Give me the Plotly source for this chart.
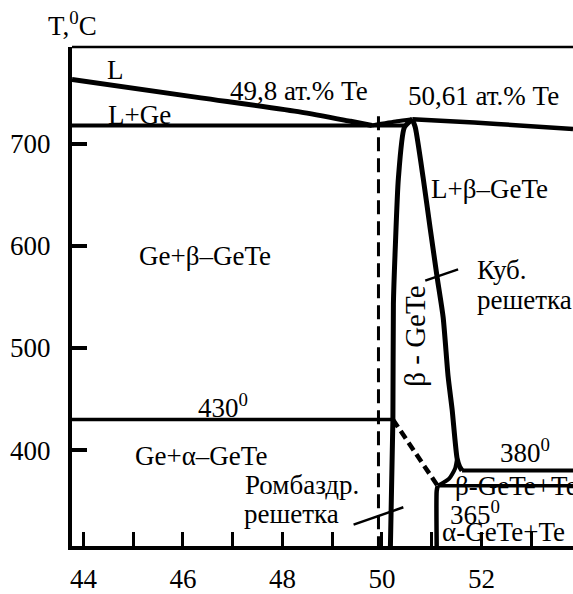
import plotly.graph_objects as go

# Ge–Te phase diagram near GeTe: composition in at.% Te, temperature in °C
X_MIN, X_MAX = 43.77, 53.84
T_MIN, T_MAX = 306.1, 794.8

# Liquidus on the Ge side down to the eutectic at 49.8 at.% Te
liq_ge_x = [43.77, 46.36, 48.37, 49.37, 49.8]
liq_ge_t = [763, 745, 731, 722, 718]

# GeTe liquidus rising from the eutectic to the congruent maximum (50.61 at.% Te)
liq_gete_x = [49.8, 50.3, 50.61]
liq_gete_t = [718, 722, 724]

# GeTe liquidus on the Te side
liq_te_x = [50.61, 51.37, 52.31, 53.84]
liq_te_t = [724, 722, 719.5, 714.5]

# Eutectic horizontal L -> Ge + beta-GeTe
eut_x = [43.77, 50.45]
eut_t = [718, 718]

# Ge-side boundary of beta-GeTe, continued down as the alpha-GeTe boundary
beta_left_x = [50.61, 50.45, 50.33, 50.27, 50.23, 50.22, 50.17]
beta_left_t = [724, 716, 666, 601, 543, 430, T_MIN]

# Te-side boundary of beta-GeTe down to the 380 degree line
beta_right_x = [50.61, 50.67, 50.83, 50.97, 51.11, 51.23, 51.33, 51.41, 51.51, 51.56, 51.61]
beta_right_t = [724, 716, 666, 617, 569, 530, 472, 440, 392, 384, 380]

# beta-GeTe solvus between 380 and 365 degrees
solvus_x = [51.51, 51.47, 51.35, 51.12]
solvus_t = [392, 382, 372, 365]

# Invariant horizontals
line430_x = [43.77, 50.22]
line430_t = [430, 430]
line380_x = [51.61, 53.84]
line380_t = [380, 380]
line365_x = [51.12, 53.84]
line365_t = [365, 365]

# alpha-GeTe boundary on the Te side
alpha_right_x = [51.12, 51.1, 51.1]
alpha_right_t = [365, 360, T_MIN]

# alpha/beta transition line (430 -> 365 degrees)
transition_x = [50.22, 51.12]
transition_t = [430, 365]

# Stoichiometric composition marker
stoich_x = [49.93, 49.93]
stoich_t = [727, T_MIN]

# Leader lines from the lattice notes
lead_cub_x = [50.87, 51.53]
lead_cub_t = [566, 577]
lead_rh_x = [49.43, 50.43]
lead_rh_t = [327, 344]

# Axis ticks
x_tick_vals = [44, 46, 48, 50, 52]
x_tick_text = ["44", "46", "48", "50", "52"]
x_minor_vals = [45, 47, 49, 51, 53]
y_tick_vals = [400, 500, 600, 700]
y_tick_text = ["400", "500", "600", "700"]

# Region and point labels: (text, x, T, angle, anchor, size)
labels = [
    ("L", 44.64, 772.6, 0, "center", 27),
    ("L+Ge", 45.12, 728.0, 0, "center", 27),
    ("49,8 ат.% Te", 48.33, 752.2, 0, "center", 27),
    ("50,61 ат.% Te", 52.05, 746.4, 0, "center", 27),
    ("L+β–GeTe", 52.17, 655.5, 0, "center", 27),
    ("Ge+β–GeTe", 46.44, 589.7, 0, "center", 27),
    ("Куб.", 52.41, 576.1, 0, "center", 27),
    ("решетка", 52.87, 547.1, 0, "center", 27),
    ("β - GeTe", 50.67, 511.3, -90, "center", 29),
    ("430<sup>0</sup>", 46.80, 443.7, 0, "center", 27),
    ("380<sup>0</sup>", 52.88, 399.2, 0, "center", 27),
    ("Ge+α–GeTe", 46.36, 394.4, 0, "center", 27),
    ("Ромбаздр.", 48.39, 366.3, 0, "center", 27),
    ("решетка", 48.19, 337.3, 0, "center", 27),
    ("β-GeTe+Te", 51.43, 365.3, 0, "left", 27),
    ("365<sup>0</sup>", 51.87, 338.0, 0, "center", 27),
    ("α-GeTe+Te", 52.45, 319.9, 0, "center", 27),
]

FONT = "Liberation Serif"
BLACK = "#000000"

fig = go.Figure()


def add_line(xs, ts, width=4.5, dash="solid"):
    fig.add_trace(go.Scatter(
        x=xs, y=ts, mode="lines",
        line=dict(color=BLACK, width=width, dash=dash, shape="spline", smoothing=0.6),
        hoverinfo="skip", showlegend=False,
    ))


add_line(liq_ge_x, liq_ge_t, 5)
add_line(liq_gete_x, liq_gete_t, 4)
add_line(liq_te_x, liq_te_t, 4.5)
add_line(eut_x, eut_t, 4)
add_line(beta_left_x, beta_left_t, 5)
add_line(beta_right_x, beta_right_t, 5)
add_line(solvus_x, solvus_t, 4)
add_line(line430_x, line430_t, 3.5)
add_line(line380_x, line380_t, 4)
add_line(line365_x, line365_t, 3.5)
add_line(alpha_right_x, alpha_right_t, 4.5)
add_line(transition_x, transition_t, 4.5, "9px,5px")
add_line(stoich_x, stoich_t, 3, "14px,7px")
add_line(lead_cub_x, lead_cub_t, 2.5)
add_line(lead_rh_x, lead_rh_t, 2.5)

for text, x, t, ang, anchor, size in labels:
    fig.add_annotation(
        x=x, y=t, xref="x", yref="y", text=text, showarrow=False,
        textangle=ang, xanchor=anchor, yanchor="middle",
        font=dict(family=FONT, size=size, color=BLACK),
    )

# Axis title written above the temperature axis
fig.add_annotation(
    x=0, y=1, xref="paper", yref="paper", text="T,<sup>0</sup>C",
    showarrow=False, xanchor="center", yanchor="bottom", yshift=4,
    font=dict(family=FONT, size=27, color=BLACK),
)

# Thin top frame line
fig.add_shape(type="line", xref="paper", yref="paper", x0=0, x1=1, y0=1, y1=1,
              line=dict(color=BLACK, width=2.5))

fig.update_layout(
    width=573, height=594,
    margin=dict(l=72, r=0, t=47, b=42),
    paper_bgcolor="white", plot_bgcolor="white",
    font=dict(family=FONT, size=27, color=BLACK),
    xaxis=dict(
        range=[X_MIN, X_MAX], showgrid=False, zeroline=False,
        showline=True, linecolor=BLACK, linewidth=4,
        tickmode="array", tickvals=x_tick_vals, ticktext=x_tick_text,
        ticks="inside", ticklen=14, tickwidth=3, tickcolor=BLACK,
        minor=dict(tickmode="array", tickvals=x_minor_vals, ticks="inside",
                   ticklen=14, tickwidth=3, tickcolor=BLACK, showgrid=False),
        tickfont=dict(family=FONT, size=27, color=BLACK),
        ticklabelstandoff=6,
    ),
    yaxis=dict(
        range=[T_MIN, T_MAX], showgrid=False, zeroline=False,
        showline=True, linecolor=BLACK, linewidth=4,
        tickmode="array", tickvals=y_tick_vals, ticktext=y_tick_text,
        ticks="inside", ticklen=15, tickwidth=4, tickcolor=BLACK,
        tickfont=dict(family=FONT, size=27, color=BLACK),
        ticklabelstandoff=12,
    ),
)

fig.write_html("out.html")
